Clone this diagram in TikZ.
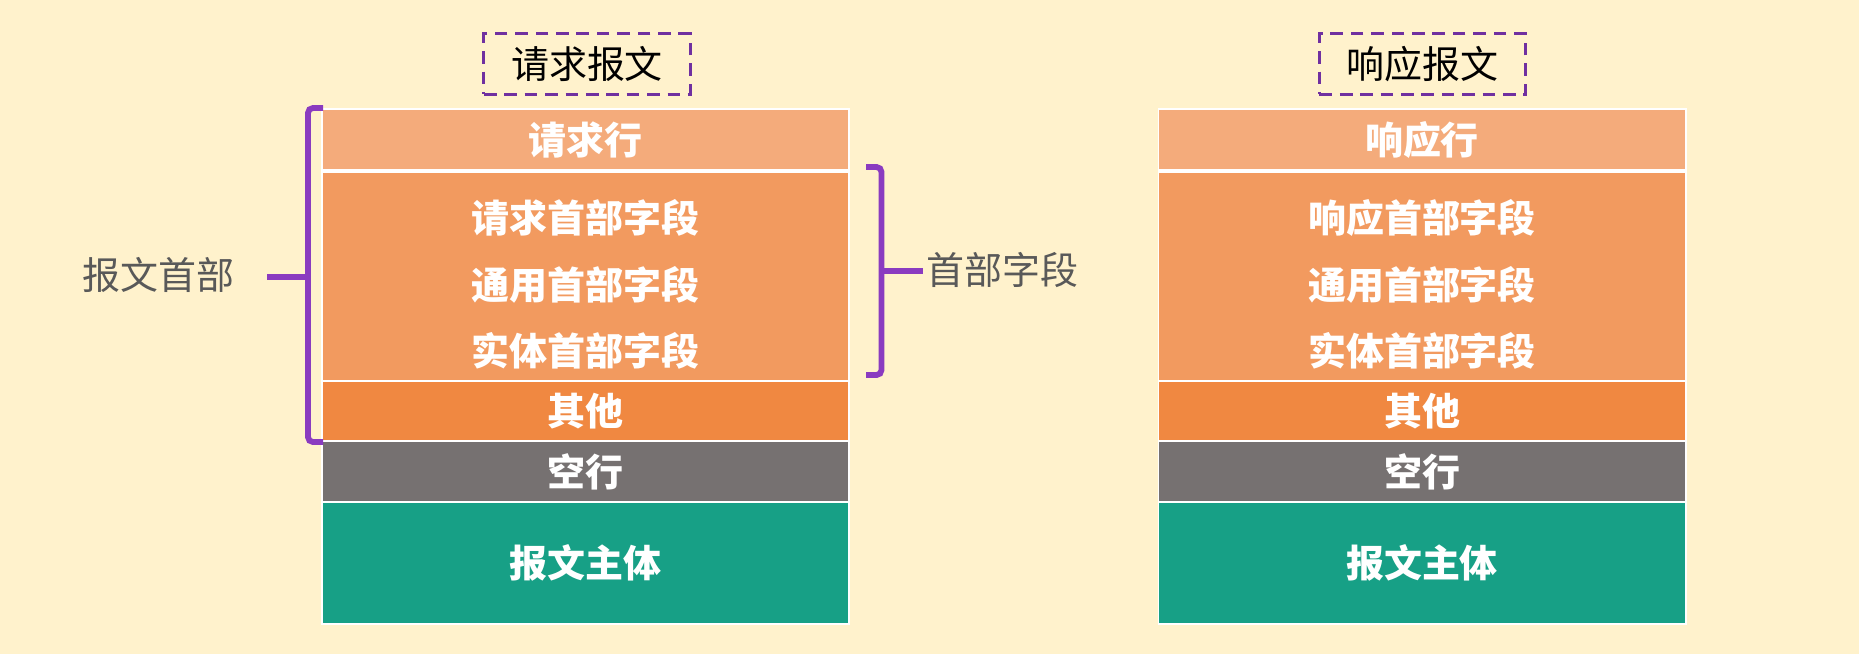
\documentclass[tikz,border=0pt]{standalone}
\usepackage{fontspec}
\usepackage{tikz}
\newfontfamily\cjk{Noto Sans CJK SC}
\definecolor{bgcream}{HTML}{FFF2CC}
\definecolor{rowlight}{HTML}{F4AB7B}
\definecolor{rowmid}{HTML}{F29A5F}
\definecolor{rowdark}{HTML}{F08841}
\definecolor{rowgray}{HTML}{767171}
\definecolor{rowteal}{HTML}{17A086}
\definecolor{bracepurple}{HTML}{8A3BC0}
\definecolor{dashpurple}{HTML}{7030A0}
\definecolor{labelgray}{HTML}{595959}

\begin{document}
\begin{tikzpicture}[x=0.01cm, y=-0.01cm,
    field/.style={fill=#1, inner sep=0pt, minimum width=5.25cm, text=white,
        font=\cjk\bfseries\fontsize{10.8}{13}\selectfont},
    fieldtext/.style={inner sep=0pt, text=white, font=\cjk\bfseries\fontsize{10.8}{13}\selectfont},
    title/.style={draw=dashpurple, line width=0.85pt, dash pattern=on 3.6pt off 2.2pt,
        minimum width=2.06cm, minimum height=0.60cm, inner sep=0pt,
        font=\cjk\fontsize{10.8}{13}\selectfont},
    bracket/.style={draw=bracepurple, line width=1.65pt, rounded corners=1.4pt},
    sidelabel/.style={text=labelgray, inner sep=0pt, font=\cjk\fontsize{10.8}{13}\selectfont}]

    % Define background
    \fill[bgcream] (0,0) rectangle (1859,654);
    \useasboundingbox (0,0) rectangle (1859,654);

    % Draw white frames of both columns
    \fill[white] (321,108) rectangle (850,625);
    \fill[white] (1157.5,108) rectangle (1686.5,625);

    % Request message
    \node[title] (Req_0) at (587,64) {请求报文};
    \node[field=rowlight, minimum height=0.59cm] (Req_1) at (585.5,139.5) {请求行};
    \node[field=rowmid, minimum height=2.07cm] (Req_2) at (585.5,276.5) {};
    \node[fieldtext] (Req_2a) at (585.5,218) {请求首部字段};
    \node[fieldtext] (Req_2b) at (585.5,285) {通用首部字段};
    \node[fieldtext] (Req_2c) at (585.5,351) {实体首部字段};
    \node[field=rowdark, minimum height=0.58cm] (Req_3) at (585.5,411) {其他};
    \node[field=rowgray, minimum height=0.59cm] (Req_4) at (585.5,471.5) {空行};
    \node[field=rowteal, minimum height=1.20cm] (Req_5) at (585.5,563) {报文主体};

    % Response message
    \node[title] (Res_0) at (1422.5,64) {响应报文};
    \node[field=rowlight, minimum height=0.59cm] (Res_1) at (1422,139.5) {响应行};
    \node[field=rowmid, minimum height=2.07cm] (Res_2) at (1422,276.5) {};
    \node[fieldtext] (Res_2a) at (1422,218) {响应首部字段};
    \node[fieldtext] (Res_2b) at (1422,285) {通用首部字段};
    \node[fieldtext] (Res_2c) at (1422,351) {实体首部字段};
    \node[field=rowdark, minimum height=0.58cm] (Res_3) at (1422,411) {其他};
    \node[field=rowgray, minimum height=0.59cm] (Res_4) at (1422,471.5) {空行};
    \node[field=rowteal, minimum height=1.20cm] (Res_5) at (1422,563) {报文主体};

    % Define bracket corners
    \coordinate (LB_1) at (323,108);
    \coordinate (LB_2) at (308,108);
    \coordinate (LB_3) at (308,442);
    \coordinate (LB_4) at (323,442);
    \coordinate (LB_m) at (308,277);
    \coordinate (LB_s) at (267,277);
    \coordinate (RB_1) at (866,167);
    \coordinate (RB_2) at (881.5,167);
    \coordinate (RB_3) at (881.5,375);
    \coordinate (RB_4) at (866,375);
    \coordinate (RB_m) at (881.5,271);
    \coordinate (RB_s) at (923,271);

    % Draw brackets
    \draw[bracket] (LB_1) -- (LB_2) -- (LB_3) -- (LB_4);
    \draw[bracket] (LB_s) -- (LB_m);
    \draw[bracket] (RB_1) -- (RB_2) -- (RB_3) -- (RB_4);
    \draw[bracket] (RB_m) -- (RB_s);

    % Add side labels
    \node[sidelabel, anchor=east] (head) at (235,275) {报文首部};
    \node[sidelabel, anchor=west] (fields) at (926,270) {首部字段};
\end{tikzpicture}
\end{document}
